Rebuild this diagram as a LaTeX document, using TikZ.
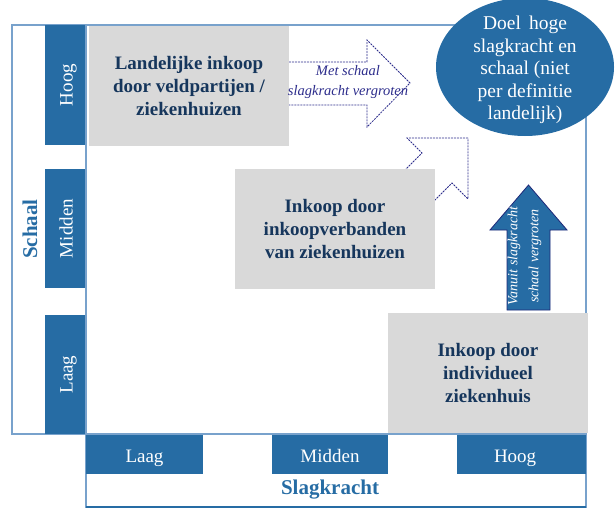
\documentclass[tikz,border=0pt]{standalone}
\usepackage{fontspec}
\setmainfont{Liberation Serif}
\usetikzlibrary{shapes.geometric}
\definecolor{mblue}{RGB}{38,108,164}
\definecolor{frameblue}{RGB}{120,162,204}
\definecolor{boxgrey}{RGB}{217,217,217}
\definecolor{navytext}{RGB}{22,54,92}
\definecolor{dashnavy}{RGB}{45,45,140}
\definecolor{arrowedge}{RGB}{30,40,120}
\begin{document}
\begin{tikzpicture}[x=1pt,y=-1pt,
  frameline/.style={draw=frameblue,line width=1.2pt},
  greybox/.style={fill=boxgrey,draw=none,inner sep=0pt,align=center,text=navytext,
    minimum width=200pt,minimum height=120pt,font=\bfseries\fontsize{19}{23}\selectfont},
  bluebox/.style={fill=mblue,draw=none,inner sep=0pt,text=white,text height=15pt,text depth=0pt,
    font=\fontsize{19}{20}\selectfont},
  dashedarrow/.style={draw=dashnavy,line width=0.8pt,dash pattern=on 2pt off 1pt,fill=white},
  axislabel/.style={text=mblue,font=\bfseries\fontsize{21}{24}\selectfont,inner sep=0pt}]
\useasboundingbox (0,0) rectangle (615,508);
% frames
\draw[frameline] (12,25) rectangle (86,434);
\draw[frameline] (86,25) rectangle (586,434);
\draw[frameline] (86,434) rectangle (586,507);
\draw[draw=mblue,line width=1.2pt] (86,507) -- (586,507);
% dashed arrows
\draw[dashedarrow] (280,62) -- (367,62) -- (367,40) -- (410,83) -- (367,127) -- (367,105) -- (280,105) -- cycle;
\draw[dashedarrow] (468,138) -- (407,138) -- (422,153) -- (382,193) -- (412,223) -- (452,183) -- (468,199) -- cycle;
% grey boxes
\node[greybox] (landelijk) at (189,86) {Landelijke inkoop\\door veldpartijen /\\ziekenhuizen};
\node[greybox] (verband) at (335,229) {Inkoop door\\inkoopverbanden\\van ziekenhuizen};
\node[greybox] (individueel) at (488,373) {Inkoop door\\individueel\\ziekenhuis};
% arrow 1 text
\node[text=dashnavy,align=center,font=\itshape\fontsize{14.5}{20}\selectfont,inner sep=0pt] (metschaal) at (348,82) {Met schaal\\slagkracht vergroten};
% axis boxes left
\node[bluebox,rotate=90,minimum width=120pt,minimum height=40pt] (yhoog) at (65,85) {Hoog};
\node[bluebox,rotate=90,minimum width=119pt,minimum height=40pt] (ymidden) at (65,228.5) {Midden};
\node[bluebox,rotate=90,minimum width=119pt,minimum height=40pt] (ylaag) at (65,374.5) {Laag};
% axis boxes bottom
\node[bluebox,minimum width=117pt,minimum height=39pt] (xlaag) at (144.5,454.5) {Laag};
\node[bluebox,minimum width=116pt,minimum height=39pt] (xmidden) at (330,454.5) {Midden};
\node[bluebox,minimum width=129pt,minimum height=39pt,text width=123pt,align=left] (xhoog) at (521.5,454.5) {\hspace*{34pt}Hoog};
% axis titles
\node[axislabel,rotate=90] (schaal) at (30,229) {Schaal};
\node[axislabel] (slagkracht) at (330,490) {Slagkracht};
% goal ellipse
\node[ellipse,fill=mblue,draw=none,minimum width=178pt,minimum height=138pt,inner sep=0pt] (doel) at (525,67) {};
\node[text=white,align=center,font=\fontsize{19.5}{22.5}\selectfont,inner sep=0pt] (doeltext) at (525,70)
  {Doel\, hoge\\slagkracht en\\schaal (niet\\per definitie\\landelijk)};
% vertical arrow
\draw[fill=mblue,draw=arrowedge,line width=0.8pt] (507,310) -- (507,230) -- (490,230) -- (528.5,185) -- (567,230) -- (550,230) -- (550,310) -- cycle;
\node[rotate=90,text=white,align=center,font=\itshape\fontsize{14}{21}\selectfont,inner sep=0pt] (vanuit) at (524.5,256) {Vanuit slagkracht\\schaal vergroten};
\end{tikzpicture}
\end{document}
